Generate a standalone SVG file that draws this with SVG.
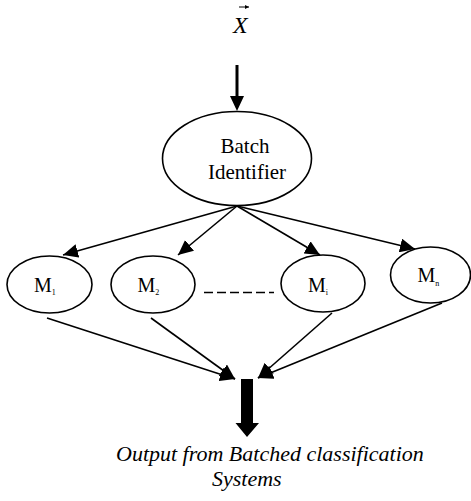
<svg xmlns="http://www.w3.org/2000/svg" width="471" height="501" viewBox="0 0 471 501">
<style>
.n{fill:#fff;stroke:#000;stroke-width:1.6}
.t{font-family:"Liberation Serif","Times New Roman",serif;fill:#000}
.c{stroke:#000;stroke-width:1.6;fill:none}
</style>
<defs>
<marker id="ah" markerUnits="userSpaceOnUse" markerWidth="16" markerHeight="14" refX="15" refY="7" orient="auto">
<path d="M0,0 L15,7 L0,14 Z" fill="#000"/>
</marker>
<marker id="va" markerUnits="userSpaceOnUse" markerWidth="5" markerHeight="5" refX="4" refY="2" orient="auto">
<path d="M0,0 L4,2 L0,4 Z" fill="#000"/>
</marker>
</defs>
<g id="input">
<text class="t" x="233" y="33" font-size="24" font-style="italic">X</text>
<line x1="239" y1="7" x2="249" y2="7" stroke="#000" stroke-width="1" marker-end="url(#va)"/>
</g>
<g id="batch-identifier">
<ellipse class="n" cx="237" cy="158.5" rx="74.5" ry="47"/>
<text class="t" x="245" y="153" font-size="21" text-anchor="middle">Batch</text>
<text class="t" x="247" y="179" font-size="21" text-anchor="middle">Identifier</text>
</g>
<g id="m1">
<ellipse class="n" cx="49.5" cy="284.5" rx="42.5" ry="28.5"/>
<text class="t" x="34" y="292" font-size="20">M<tspan font-size="8" dy="3">1</tspan></text>
</g>
<g id="m2">
<ellipse class="n" cx="153" cy="284.5" rx="42" ry="28.5"/>
<text class="t" x="137.5" y="292" font-size="20">M<tspan font-size="8" dy="3">2</tspan></text>
</g>
<g id="mi">
<ellipse class="n" cx="323" cy="283.5" rx="42" ry="28.5"/>
<text class="t" x="308" y="292" font-size="20">M<tspan font-size="8" dy="3">i</tspan></text>
</g>
<g id="mn">
<ellipse class="n" cx="430.5" cy="275" rx="40" ry="28"/>
<text class="t" x="417.5" y="282" font-size="20">M<tspan font-size="8" dy="4">n</tspan></text>
</g>
<g id="output">
<text class="t" x="116" y="461" font-size="22" font-style="italic">Output from Batched classification</text>
<text class="t" x="212" y="486" font-size="22" font-style="italic">Systems</text>
</g>
<g id="connectors">
<line x1="237" y1="65" x2="237" y2="97" stroke="#000" stroke-width="3"/>
<path d="M230,96 L244,96 L237,111 Z" fill="#000"/>
<line class="c" x1="237" y1="206" x2="63" y2="255" marker-end="url(#ah)"/>
<line class="c" x1="237" y1="206" x2="178" y2="255" marker-end="url(#ah)"/>
<line class="c" x1="237" y1="206" x2="320" y2="255" marker-end="url(#ah)"/>
<line class="c" x1="237" y1="206" x2="415" y2="249" marker-end="url(#ah)"/>
<line class="c" x1="204" y1="292.5" x2="274" y2="292.5" stroke-dasharray="9,4"/>
<line class="c" x1="47" y1="318" x2="235" y2="379" marker-end="url(#ah)"/>
<line class="c" x1="151" y1="318" x2="235" y2="379" marker-end="url(#ah)"/>
<line class="c" x1="332" y1="313" x2="258" y2="378" marker-end="url(#ah)"/>
<line class="c" x1="442" y1="303" x2="258" y2="378" marker-end="url(#ah)"/>
<path d="M241,379 L253,379 L253,423 L259,423 L247,437 L235.5,423 L241,423 Z" fill="#000"/>
</g>
</svg>
